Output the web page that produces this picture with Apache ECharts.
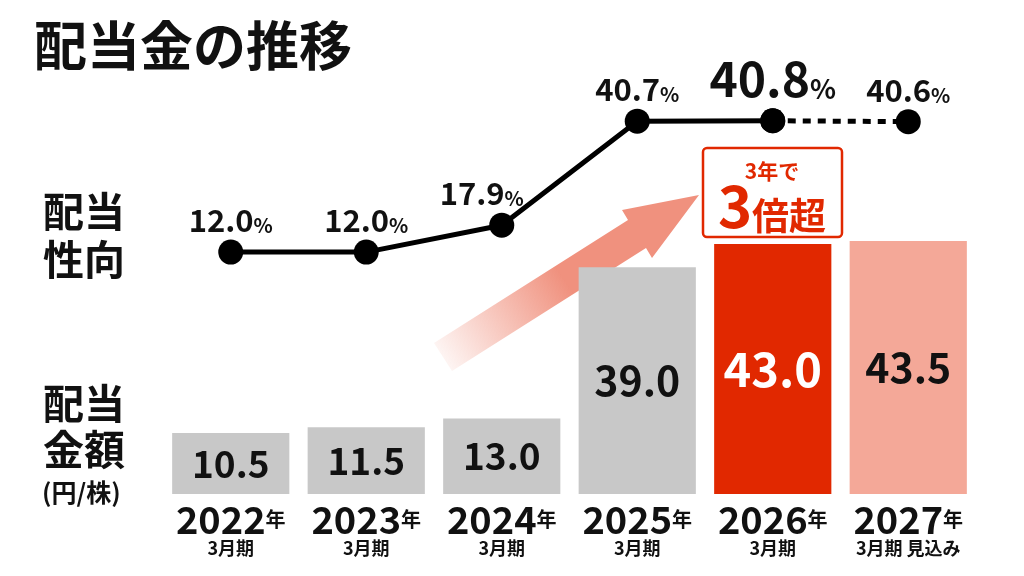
<!DOCTYPE html>
<html><head><meta charset="utf-8">
<script src="https://cdn.jsdelivr.net/npm/echarts@6/dist/echarts.min.js"></script>
<style>html,body{margin:0;padding:0;background:#fff}#c{width:1024px;height:576px}</style>
</head><body><div id="c"></div>
<script>
const years = ['2022','2023','2024','2025','2026','2027'];
const periodLabels = ['3月期','3月期','3月期','3月期','3月期','3月期 見込み'];
const dividends = [10.5, 11.5, 13.0, 39.0, 43.0, 43.5];
const payoutRatios = [12.0, 12.0, 17.9, 40.7, 40.8, 40.6];
const barColors = ['#c8c8c8','#c8c8c8','#c8c8c8','#c8c8c8','#e12800','#f4a898'];
const FONT = '"Noto Sans CJK JP","Noto Sans",sans-serif';

const chart = echarts.init(document.getElementById('c'));

const barFont = [37,37,37,41,47,41];
const barLabelColor = ['#111','#111','#111','#111','#fff','#111'];

const solidData = payoutRatios.map((v,i)=> i<=4 ? {
  value: v,
  label: i===4 ? {distance: 6, formatter: '{b|' + v.toFixed(1) + '}{p|%}'}
       : {formatter: '{a|' + v.toFixed(1) + '}{q|%}', offset: i===2 ? [-20,0] : [0,0]}
} : '-');
const dashData = payoutRatios.map((v,i)=> i>=4 ? {
  value: v,
  label: {show: i===5, formatter: '{a|' + v.toFixed(1) + '}{q|%}'}
} : '-');

const richPct = {
  a:{fontFamily:FONT,fontWeight:'bold',fontSize:31,lineHeight:30,color:'#111'},
  q:{fontFamily:FONT,fontWeight:'bold',fontSize:20,lineHeight:30,color:'#111',verticalAlign:'bottom'},
  b:{fontFamily:FONT,fontWeight:'bold',fontSize:48,lineHeight:46,color:'#111'},
  p:{fontFamily:FONT,fontWeight:'bold',fontSize:27,lineHeight:42,color:'#111',verticalAlign:'bottom'}
};

chart.setOption({
  animation:false,
  grid:[
    {left:163, right:48, bottom:82, height:290.7},
    {left:163, right:48, top:78.8, height:228}
  ],
  xAxis:[
    {type:'category', gridIndex:0, data:years,
      axisLine:{show:false}, axisTick:{show:false},
      axisLabel:{interval:0, margin:7,
        formatter:(v,i)=> '{y|'+v+'}{n|年}\n{s|'+periodLabels[i]+'}',
        rich:{
          y:{fontFamily:FONT,fontWeight:'bold',fontSize:38,lineHeight:37,color:'#111'},
          n:{fontFamily:FONT,fontWeight:'bold',fontSize:20,lineHeight:37,color:'#111'},
          s:{fontFamily:FONT,fontWeight:'bold',fontSize:18,lineHeight:20,color:'#111'}
        }}},
    {type:'category', gridIndex:1, data:years, show:false}
  ],
  yAxis:[
    {type:'value', gridIndex:0, min:0, max:50, show:false},
    {type:'value', gridIndex:1, min:0, max:50, show:false}
  ],
  graphic:[
    {type:'polygon', z:1,
      shape:{points:[[434,343],[628,220],[622,210],[699,195],[652,258],[646,248],[452,371]]},
      style:{fill:{type:'linear',x:0,y:1,x2:1,y2:0,colorStops:[
        {offset:0,color:'rgba(240,145,126,0)'},
        {offset:0.5,color:'rgba(240,145,126,1)'},
        {offset:1,color:'rgba(240,145,126,1)'}]}}},
    {type:'text', z:10, style:{text:'配当金の推移', x:34, y:19, verticalAlign:'top',
      font:'bold 53px '+FONT, fill:'#111'}},
    {type:'text', z:10, style:{text:'配当\n性向', x:43, y:187, verticalAlign:'top',
      font:'bold 41px '+FONT, lineHeight:48, fill:'#111'}},
    {type:'text', z:10, style:{text:'配当\n金額', x:43, y:380, verticalAlign:'top',
      font:'bold 41px '+FONT, lineHeight:46, fill:'#111'}},
    {type:'text', z:10, style:{text:'(円/株)', x:42, y:480, verticalAlign:'top',
      font:'bold 25px '+FONT, fill:'#111'}},
    {type:'rect', z:10, shape:{x:703,y:148,width:139,height:89,r:4},
      style:{fill:'#fff', stroke:'#e12800', lineWidth:2.5}},
    {type:'text', z:11, style:{text:'3年で', x:772, y:171, align:'center', verticalAlign:'middle',
      font:'bold 21px '+FONT, fill:'#e12800'}},
    {type:'text', z:11, style:{
      text:'{t|3}{u|倍超}', x:772, y:206, align:'center', verticalAlign:'middle',
      rich:{
        t:{fontFamily:FONT,fontWeight:'bold',fontSize:58,lineHeight:56,fill:'#e12800'},
        u:{fontFamily:FONT,fontWeight:'bold',fontSize:37,lineHeight:50,fill:'#e12800',verticalAlign:'bottom'}
      }}}
  ],
  series:[
    {type:'bar', xAxisIndex:0, yAxisIndex:0, z:2, barCategoryGap:'13.5%',
      data: dividends.map((v,i)=>({value:v, itemStyle:{color:barColors[i]},
        label:{fontSize:barFont[i], color:barLabelColor[i]}})),
      label:{show:true, position:'inside', fontFamily:FONT, fontWeight:'bold',
        formatter:p=>p.value.toFixed(1)}},
    {type:'line', xAxisIndex:1, yAxisIndex:1, z:4, data:dashData,
      symbol:'circle', symbolSize:25, itemStyle:{color:'#000'},
      lineStyle:{color:'#000', width:5, type:[8,7]},
      label:{show:true, position:'top', distance:4, rich:richPct}},
    {type:'line', xAxisIndex:1, yAxisIndex:1, z:5, data:solidData,
      symbol:'circle', symbolSize:25, itemStyle:{color:'#000'},
      lineStyle:{color:'#000', width:5},
      label:{show:true, position:'top', distance:4, rich:richPct}}
  ]
});
</script></body></html>
